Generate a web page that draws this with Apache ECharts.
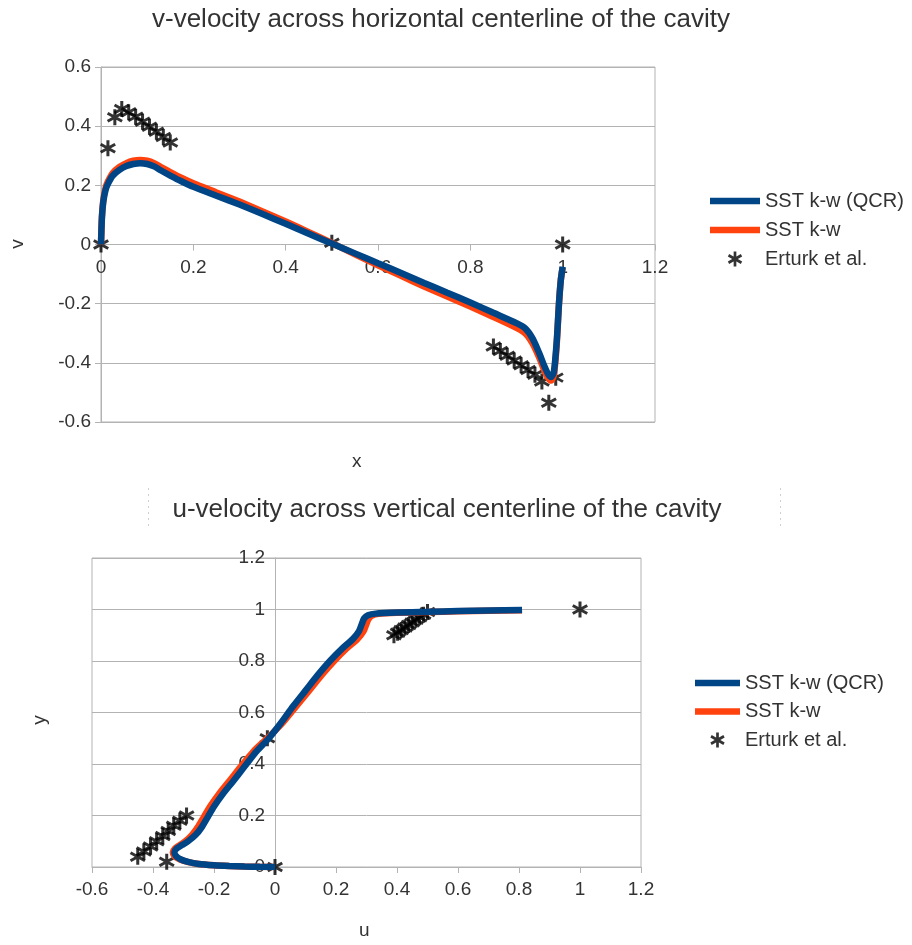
<!DOCTYPE html>
<html>
<head>
<meta charset="utf-8">
<script src="https://cdn.jsdelivr.net/npm/echarts@6/dist/echarts.min.js"></script>
<style>
html,body{margin:0;padding:0;background:#fff;}
#chart{width:912px;height:945px;}
</style>
</head>
<body>
<div id="chart"></div>
<script>
// ---------- data ----------
var seriesNames = ['SST k-w (QCR)', 'SST k-w', 'Erturk et al.'];

// v-velocity across horizontal centerline: [x, v]
var vQCR = [[0,0],[0.002,0.09],[0.005,0.145],[0.01,0.185],[0.015,0.205],[0.025,0.232],[0.04,0.252],[0.055,0.265],[0.07,0.272],[0.085,0.275],[0.1,0.272],[0.115,0.264],[0.13,0.25],[0.15,0.233],[0.175,0.213],[0.2,0.195],[0.25,0.165],[0.3,0.135],[0.35,0.103],[0.4,0.07],[0.45,0.036],[0.5,0.003],[0.55,-0.03],[0.6,-0.063],[0.65,-0.096],[0.7,-0.13],[0.75,-0.163],[0.8,-0.196],[0.85,-0.231],[0.9,-0.266],[0.92,-0.285],[0.935,-0.318],[0.95,-0.37],[0.96,-0.41],[0.968,-0.437],[0.975,-0.448],[0.981,-0.43],[0.987,-0.33],[0.992,-0.2],[0.996,-0.12],[1.0,-0.075]];
var vSST = [[0,0],[0.002,0.095],[0.005,0.15],[0.01,0.192],[0.015,0.213],[0.025,0.241],[0.04,0.262],[0.055,0.275],[0.07,0.283],[0.085,0.286],[0.1,0.283],[0.115,0.275],[0.13,0.262],[0.15,0.245],[0.175,0.225],[0.2,0.207],[0.25,0.176],[0.3,0.145],[0.35,0.112],[0.4,0.078],[0.45,0.042],[0.5,0.005],[0.55,-0.033],[0.6,-0.07],[0.65,-0.106],[0.7,-0.142],[0.75,-0.176],[0.8,-0.21],[0.85,-0.245],[0.9,-0.282],[0.92,-0.302],[0.935,-0.335],[0.95,-0.385],[0.96,-0.425],[0.968,-0.45],[0.975,-0.46],[0.981,-0.44],[0.987,-0.34],[0.992,-0.2],[0.996,-0.12],[1.0,-0.078]];
var vErturkX = [0,0.015,0.03,0.045,0.06,0.075,0.09,0.105,0.12,0.135,0.15,0.5,0.85,0.865,0.88,0.895,0.91,0.925,0.94,0.955,0.97,0.985,1.0];
var vErturkV = [0,0.325,0.43,0.458,0.447,0.432,0.415,0.398,0.381,0.363,0.345,0.006,-0.345,-0.36,-0.376,-0.392,-0.408,-0.424,-0.44,-0.463,-0.535,-0.45,0];

// u-velocity across vertical centerline: [u, y]
var uQCR = [[0,0],[-0.05,0.0005],[-0.1,0.002],[-0.15,0.004],[-0.2,0.007],[-0.25,0.012],[-0.285,0.02],[-0.31,0.03],[-0.325,0.043],[-0.33,0.057],[-0.322,0.072],[-0.305,0.085],[-0.285,0.1],[-0.26,0.125],[-0.24,0.155],[-0.22,0.195],[-0.2,0.235],[-0.17,0.285],[-0.136,0.335],[-0.1,0.39],[-0.06,0.45],[-0.02,0.5],[0.02,0.56],[0.06,0.625],[0.1,0.685],[0.14,0.745],[0.18,0.8],[0.22,0.848],[0.255,0.885],[0.275,0.915],[0.285,0.945],[0.292,0.965],[0.305,0.978],[0.33,0.984],[0.4,0.988],[0.5,0.991],[0.6,0.994],[0.7,0.996],[0.81,0.998]];
var uSST = [[0,0],[-0.05,0.0005],[-0.1,0.002],[-0.15,0.004],[-0.2,0.007],[-0.25,0.012],[-0.287,0.02],[-0.313,0.03],[-0.33,0.043],[-0.335,0.057],[-0.328,0.072],[-0.312,0.085],[-0.294,0.1],[-0.272,0.125],[-0.253,0.155],[-0.233,0.195],[-0.213,0.235],[-0.183,0.285],[-0.149,0.335],[-0.112,0.39],[-0.07,0.45],[-0.025,0.5],[0.025,0.56],[0.07,0.625],[0.112,0.685],[0.153,0.745],[0.194,0.8],[0.234,0.848],[0.27,0.885],[0.29,0.915],[0.3,0.945],[0.307,0.963],[0.318,0.976],[0.34,0.983],[0.4,0.987],[0.5,0.99],[0.6,0.993],[0.7,0.995],[0.81,0.997]];
var uErturkY = [0,0.02,0.04,0.06,0.08,0.10,0.12,0.14,0.16,0.18,0.20,0.5,0.90,0.91,0.92,0.93,0.94,0.95,0.96,0.97,0.98,0.99,1.0];
var uErturkU = [0,-0.355,-0.45,-0.43,-0.408,-0.388,-0.368,-0.35,-0.332,-0.312,-0.29,-0.025,0.39,0.402,0.414,0.426,0.438,0.45,0.462,0.474,0.487,0.5,1.0];

var topTitle = 'v-velocity across horizontal centerline of the cavity';
var bottomTitle = 'u-velocity across vertical centerline of the cavity';

// ---------- styles ----------
var FONT = 'Liberation Sans';
var BLUE = '#004586', ORANGE = '#ff420e', GRID = '#b3b3b3', TXT = '#333333';
var STAR = 'path://M-1.8,10L1.8,10L1.8,-10L-1.8,-10Z' +
  'M7.76,6.56L9.56,3.44L-7.76,-6.56L-9.56,-3.44Z' +
  'M-9.56,3.44L-7.76,6.56L9.56,-3.44L7.76,-6.56Z';
var LINEICON = 'path://M0,0L50,0L50,6.5L0,6.5Z';
var LINEICON2 = 'path://M0,0L45,0L45,6.5L0,6.5Z';

function fmt(v){ return String(+v.toFixed(1)); }

var vErturk = vErturkX.map(function(x,i){ return [x, vErturkV[i]]; });
var uErturk = uErturkY.map(function(y,i){ return [uErturkU[i], y]; });

function xAxisCfg(gi, mn, mx, margin, offset){
  return {type:'value', gridIndex:gi, min:mn, max:mx, interval:0.2, position:'bottom', offset:offset,
    axisLine:{show:true, onZero:false, lineStyle:{color:GRID, width:1}},
    axisTick:{show:true, length:6, lineStyle:{color:GRID}},
    axisLabel:{fontFamily:FONT, fontSize:19, color:TXT, margin:margin, formatter:fmt},
    splitLine:{show:false}};
}
function yAxisCfg(gi, mn, mx, margin, offset){
  return {type:'value', gridIndex:gi, min:mn, max:mx, interval:0.2, position:'left', offset:offset,
    axisLine:{show:true, onZero:false, lineStyle:{color:GRID, width:1}},
    axisTick:{show:true, length:6, lineStyle:{color:GRID}},
    axisLabel:{fontFamily:FONT, fontSize:19, color:TXT, margin:margin, formatter:fmt},
    splitLine:{show:true, lineStyle:{color:GRID, width:1}}};
}
function lineSeries(name, data, color, gi, z){
  return {type:'line', name:name, xAxisIndex:gi, yAxisIndex:gi, data:data,
    showSymbol:false, symbol:'none', smooth:0.25, z:z,
    lineStyle:{color:color, width:6.5}, itemStyle:{color:color}};
}
function starSeries(data, gi){
  return {type:'scatter', name:seriesNames[2], xAxisIndex:gi, yAxisIndex:gi, data:data,
    symbol:STAR, symbolSize:16, z:1, itemStyle:{color:'#000'}};
}
function legendCfg(left, top, gap, w, icon){
  return {orient:'vertical', left:left, top:top, itemWidth:w, itemHeight:15, itemGap:gap,
    symbolKeepAspect:true, selectedMode:false,
    textStyle:{fontFamily:FONT, fontSize:20, color:TXT, lineHeight:20},
    data:[{name:seriesNames[0], icon:icon},{name:seriesNames[1], icon:icon},{name:seriesNames[2], icon:STAR}]};
}

var chart = echarts.init(document.getElementById('chart'), null, {renderer:'canvas'});
chart.setOption({
  backgroundColor:'#fff',
  animation:false,
  title:[
    {text:topTitle, left:436, top:2, textAlign:'center', textStyle:{fontFamily:FONT, fontSize:26, fontWeight:'normal', color:TXT}},
    {text:bottomTitle, left:442, top:492, textAlign:'center', textStyle:{fontFamily:FONT, fontSize:26, fontWeight:'normal', color:TXT}}
  ],
  grid:[
    {left:101, top:67, width:554, height:355, show:true, borderColor:GRID, borderWidth:1, backgroundColor:'transparent'},
    {left:92, top:558, width:549, height:309, show:true, borderColor:GRID, borderWidth:1, backgroundColor:'transparent'}
  ],
  xAxis:[xAxisCfg(0, 0, 1.2, 14, -177.5), xAxisCfg(1, -0.6, 1.2, 13, 0)],
  yAxis:[yAxisCfg(0, -0.6, 0.6, 10, 0), yAxisCfg(1, 0, 1.2, 10, -183)],
  legend:[legendCfg(705, 186, 9, 50, LINEICON), legendCfg(690, 668, 8.5, 45, LINEICON2)],
  graphic:[
    {type:'text', left:352, top:452, style:{text:'x', font:'19px "Liberation Sans"', fill:TXT}},
    {type:'text', x:18, y:244, rotation:Math.PI/2, style:{text:'v', font:'19px "Liberation Sans"', fill:TXT, align:'center', verticalAlign:'middle'}},
    {type:'text', left:359, top:921, style:{text:'u', font:'19px "Liberation Sans"', fill:TXT}},
    {type:'text', x:40, y:720, rotation:Math.PI/2, style:{text:'y', font:'19px "Liberation Sans"', fill:TXT, align:'center', verticalAlign:'middle'}},
    {type:'line', shape:{x1:148.5, y1:488, x2:148.5, y2:530}, style:{stroke:'#d0d0d0', lineWidth:1, lineDash:[2,4]}},
    {type:'line', shape:{x1:780.5, y1:488, x2:780.5, y2:530}, style:{stroke:'#d0d0d0', lineWidth:1, lineDash:[2,4]}}
  ],
  series:[
    lineSeries(seriesNames[0], vQCR, BLUE, 0, 3),
    lineSeries(seriesNames[1], vSST, ORANGE, 0, 2),
    starSeries(vErturk, 0),
    lineSeries(seriesNames[0], uQCR, BLUE, 1, 3),
    lineSeries(seriesNames[1], uSST, ORANGE, 1, 2),
    starSeries(uErturk, 1)
  ]
});
</script>
</body>
</html>
